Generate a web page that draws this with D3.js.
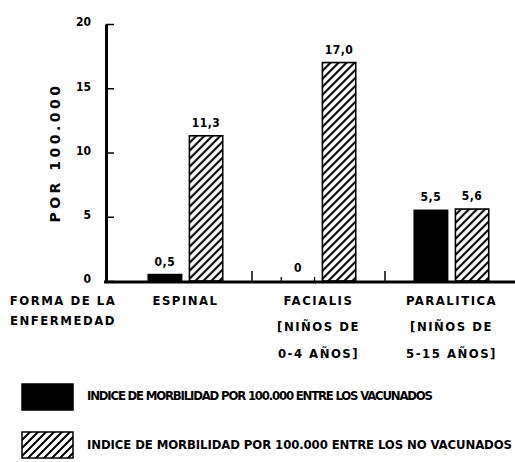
<!DOCTYPE html>
<html>
<head>
<meta charset="utf-8">
<script src="https://cdn.jsdelivr.net/npm/d3@7"></script>
<style>
  body { margin: 0; background: #fff; }
  text { font-family: "Liberation Sans Narrow", "DejaVu Sans Condensed", sans-serif; font-weight: bold; fill: #000; }
</style>
</head>
<body>
<script>
// Datos
var categories = ["ESPINAL", "FACIALIS", "PARALITICA"];
var categoryLines = [
  ["ESPINAL"],
  ["FACIALIS", "[NIÑOS DE", "0-4 AÑOS]"],
  ["PARALITICA", "[NIÑOS DE", "5-15 AÑOS]"]
];
var vacunados = [0.5, 0, 5.5];
var noVacunados = [11.3, 17.0, 5.6];
var yTicks = [0, 5, 10, 15, 20];
var seriesKeys = ["vac", "novac"];
var legendLabels = [
  "INDICE DE MORBILIDAD POR 100.000 ENTRE LOS VACUNADOS",
  "INDICE DE MORBILIDAD POR 100.000 ENTRE LOS NO VACUNADOS"
];

var width = 515, height = 462;
var axisX = 106, baseY = 281, topY = 24;

var svg = d3.select("body").append("svg")
  .attr("width", width)
  .attr("height", height);

// Patrón rayado
svg.append("defs").append("pattern")
  .attr("id", "hatch")
  .attr("patternUnits", "userSpaceOnUse")
  .attr("width", 8)
  .attr("height", 8)
  .append("path")
  .attr("d", "M-2,2 L2,-2 M0,8 L8,0 M6,10 L10,6")
  .attr("stroke", "#000")
  .attr("stroke-width", 2);

// Escalas
var y = d3.scaleLinear().domain([0, 20]).range([baseY, topY]);
var x = d3.scaleBand().domain(categories).range([119, 518]).paddingInner(0.44).paddingOuter(0.22);
var xSub = d3.scaleBand().domain(seriesKeys).range([0, x.bandwidth()]).paddingInner(0.19);

function fmt(v) { return v === 0 ? "0" : v.toFixed(1).replace(".", ","); }

// Eje Y
var yAxis = d3.axisLeft(y).tickValues(yTicks).tickSize(-8).tickSizeOuter(0).tickPadding(15);
var gy = svg.append("g").attr("transform", "translate(" + axisX + ",0)").call(yAxis);
gy.attr("font-family", null);
gy.select(".domain").attr("stroke-width", 3);
gy.selectAll(".tick line").attr("stroke-width", 1.5);
gy.selectAll(".tick text")
  .attr("font-size", 12)
  .attr("dy", "0.15em");

svg.append("text")
  .attr("transform", "translate(60," + (topY + baseY) / 2 + ") rotate(-90)")
  .attr("text-anchor", "middle")
  .attr("font-size", 14)
  .attr("letter-spacing", 3.5)
  .style("font-family", "'DejaVu Sans', sans-serif")
  .text("POR 100.000");

// Barras
var rows = categories.map(function(c, i) {
  return { cat: c, values: [{ key: "vac", v: vacunados[i] }, { key: "novac", v: noVacunados[i] }] };
});

var groups = svg.selectAll(".grp").data(rows).enter().append("g")
  .attr("class", "grp")
  .attr("transform", function(d) { return "translate(" + x(d.cat) + ",0)"; });

groups.selectAll("rect").data(function(d) { return d.values; }).enter().append("rect")
  .attr("x", function(d) { return xSub(d.key); })
  .attr("y", function(d) { return y(d.v); })
  .attr("width", xSub.bandwidth())
  .attr("height", function(d) { return baseY - y(d.v); })
  .attr("fill", function(d) { return d.key === "vac" ? "#000" : "url(#hatch)"; })
  .attr("stroke", "#000")
  .attr("stroke-width", 1.6);

// bordes de la barra de valor cero
groups.selectAll(".zero").data(function(d) { return d.values.filter(function(e) { return e.v === 0; }); })
  .enter().append("path")
  .attr("d", function(d) {
    var x0 = xSub(d.key), x1 = x0 + xSub.bandwidth();
    return "M" + x0 + "," + baseY + "v-4M" + x1 + "," + baseY + "v-4";
  })
  .attr("stroke", "#000")
  .attr("stroke-width", 1.2);

groups.selectAll(".val").data(function(d) { return d.values; }).enter().append("text")
  .attr("x", function(d) { return xSub(d.key) + xSub.bandwidth() / 2; })
  .attr("y", function(d) { return y(d.v) - 9; })
  .attr("text-anchor", "middle")
  .attr("font-size", 12)
  .attr("letter-spacing", 0.5)
  .text(function(d) { return fmt(d.v); });

// Línea base y separadores
svg.append("line")
  .attr("x1", axisX - 2).attr("x2", width)
  .attr("y1", baseY + 1).attr("y2", baseY + 1)
  .attr("stroke", "#000").attr("stroke-width", 3);

var seps = categories.slice(1).map(function(c) {
  return x(c) - x.step() * x.paddingInner() / 2;
});
svg.selectAll(".sep").data(seps).enter().append("line")
  .attr("x1", function(d) { return d; }).attr("x2", function(d) { return d; })
  .attr("y1", baseY).attr("y2", baseY - 10)
  .attr("stroke", "#000").attr("stroke-width", 1.5);

// Etiquetas de categoría
var lineY = [305, 331, 358];
groups.each(function(d, i) {
  var g = d3.select(this);
  categoryLines[i].forEach(function(t, j) {
    g.append("text")
      .attr("x", x.bandwidth() / 2)
      .attr("y", lineY[j])
      .attr("text-anchor", "middle")
      .attr("font-size", 13)
      .attr("letter-spacing", 1.5)
      .text(t);
  });
});

svg.selectAll(".forma").data(["FORMA DE LA", "ENFERMEDAD"]).enter().append("text")
  .attr("x", 63)
  .attr("y", function(d, i) { return 305 + i * 20; })
  .attr("text-anchor", "middle")
  .attr("font-size", 13)
  .attr("letter-spacing", 1.5)
  .text(function(d) { return d; });

// Leyenda
var legend = svg.selectAll(".leg").data(seriesKeys).enter().append("g")
  .attr("transform", function(d, i) { return "translate(22," + (384 + i * 48) + ")"; });

legend.append("rect")
  .attr("width", 51).attr("height", 26)
  .attr("fill", function(d) { return d === "vac" ? "#000" : "url(#hatch)"; })
  .attr("stroke", "#000").attr("stroke-width", 1.5);

legend.append("text")
  .attr("x", 65)
  .attr("y", function(d, i) { return i === 0 ? 16 : 17; })
  .attr("font-size", 13)
  .attr("textLength", function(d, i) { return i === 0 ? 346 : 425; })
  .attr("lengthAdjust", "spacing")
  .text(function(d, i) { return legendLabels[i]; });
</script>
</body>
</html>
